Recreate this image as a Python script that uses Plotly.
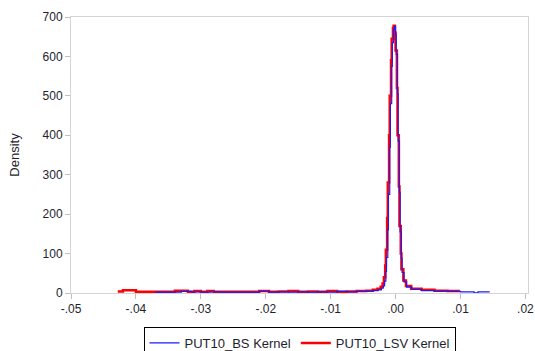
import plotly.graph_objects as go

# PUT10_BS Kernel (blue)
x_bs = [-0.0371, -0.0350, -0.0330, -0.0315, -0.0300, -0.0285, -0.0270, -0.0250, -0.0230,
        -0.0210, -0.0195, -0.0180, -0.0165, -0.0150, -0.0135, -0.0120, -0.0105, -0.0090,
        -0.0075, -0.0060, -0.0045, -0.0035, -0.0027, -0.0022, -0.0019,
        -0.0017, -0.0015, -0.0014, -0.0012, -0.0011, -0.0009, -0.0008, -0.0006, -0.0005,
        -0.0003, -0.0002, 0.0000, 0.0001, 0.0003, 0.0004, 0.0006, 0.0007, 0.0009, 0.0010,
        0.0013, 0.0017, 0.0025, 0.0040, 0.0060, 0.0080, 0.0100, 0.0115, 0.0121, 0.0127,
        0.0145]
y_bs = [2, 2, 4, 3, 2, 3, 2, 2, 2,
        4, 2, 3, 2, 3, 2, 3, 2, 4,
        3, 4, 5, 6, 8, 12, 18,
        30, 55, 90, 160, 250, 370, 480, 575, 635,
        668, 676, 655, 605, 505, 385, 255, 155, 88, 52,
        28, 15, 9, 6, 5, 4, 3, 3, 0.5, 3,
        3]

# PUT10_LSV Kernel (red)
x_lsv = [-0.0428, -0.0420, -0.0410, -0.0400, -0.0390, -0.0370, -0.0350, -0.0340, -0.0330,
         -0.0320, -0.0310, -0.0300, -0.0290, -0.0280, -0.0270, -0.0250, -0.0230, -0.0210,
         -0.0195, -0.0180, -0.0165, -0.0150, -0.0135, -0.0120, -0.0105, -0.0090, -0.0075,
         -0.0060, -0.0045, -0.0035, -0.0028, -0.0023, -0.0020,
         -0.0018, -0.0016, -0.0015, -0.0013, -0.0012, -0.0010, -0.0009, -0.0007, -0.0006,
         -0.0004, -0.0003, -0.0001, 0.0000, 0.0002, 0.0003, 0.0005, 0.0006, 0.0008, 0.0009,
         0.0012, 0.0016, 0.0024, 0.0040, 0.0060, 0.0080, 0.0099]
y_lsv = [4, 7, 7, 3, 3, 3, 3, 6, 6,
         3, 5, 3, 5, 3, 3, 3, 3, 5,
         3, 4, 5, 3, 4, 3, 5, 3, 4,
         5, 6, 8, 11, 16, 24,
         40, 70, 110, 190, 280, 400, 500, 590, 645,
         672, 678, 660, 615, 520, 400, 270, 170, 100, 60,
         32, 18, 11, 8, 6, 5, 5]

x_tickvals = [-0.05, -0.04, -0.03, -0.02, -0.01, 0.0, 0.01, 0.02]
x_ticktext = ["-.05", "-.04", "-.03", "-.02", "-.01", ".00", ".01", ".02"]
y_tickvals = [0, 100, 200, 300, 400, 500, 600, 700]

fig = go.Figure()
fig.add_trace(go.Scatter(x=x_lsv, y=y_lsv, mode="lines", name="PUT10_LSV Kernel",
                         line=dict(color="#ff0000", width=2.5, shape="hv"), legendrank=2))
fig.add_trace(go.Scatter(x=x_bs, y=y_bs, mode="lines", name="PUT10_BS Kernel",
                         line=dict(color="#1a1aff", width=1.2, shape="hv"), legendrank=1))

axis_common = dict(showline=True, mirror=True, linecolor="#d4d4d4", linewidth=1,
                   ticks="outside", tickcolor="#bfbfbf", ticklen=5, showgrid=False,
                   zeroline=False, automargin=False, ticklabeloverflow="allow",
                   tickfont=dict(family="Liberation Sans, Arial", size=12, color="#1e1e2e"))

fig.update_layout(
    width=535, height=351,
    margin=dict(l=71, r=7, t=17, b=58, autoexpand=False),
    paper_bgcolor="white", plot_bgcolor="white",
    font=dict(family="Liberation Sans, Arial", size=13, color="#1e1e2e"),
    xaxis=dict(range=[-0.05, 0.0204], tickvals=x_tickvals, ticktext=x_ticktext, **axis_common),
    yaxis=dict(range=[0, 700], tickvals=y_tickvals,
               title=dict(text="Density", standoff=20, font=dict(size=13)), **axis_common),
    legend=dict(orientation="h", x=0.5, xanchor="center", y=-0.123, yanchor="top",
                bordercolor="#000000", borderwidth=1, bgcolor="white",
                font=dict(family="Liberation Sans, Arial", size=13, color="#1e1e2e"),
                itemwidth=30, traceorder="normal", tracegroupgap=0),
    showlegend=True,
)

fig.write_html("out.html",
               config={"displayModeBar": False},
               post_script="document.body.style.margin='0';document.body.style.overflow='hidden';")
